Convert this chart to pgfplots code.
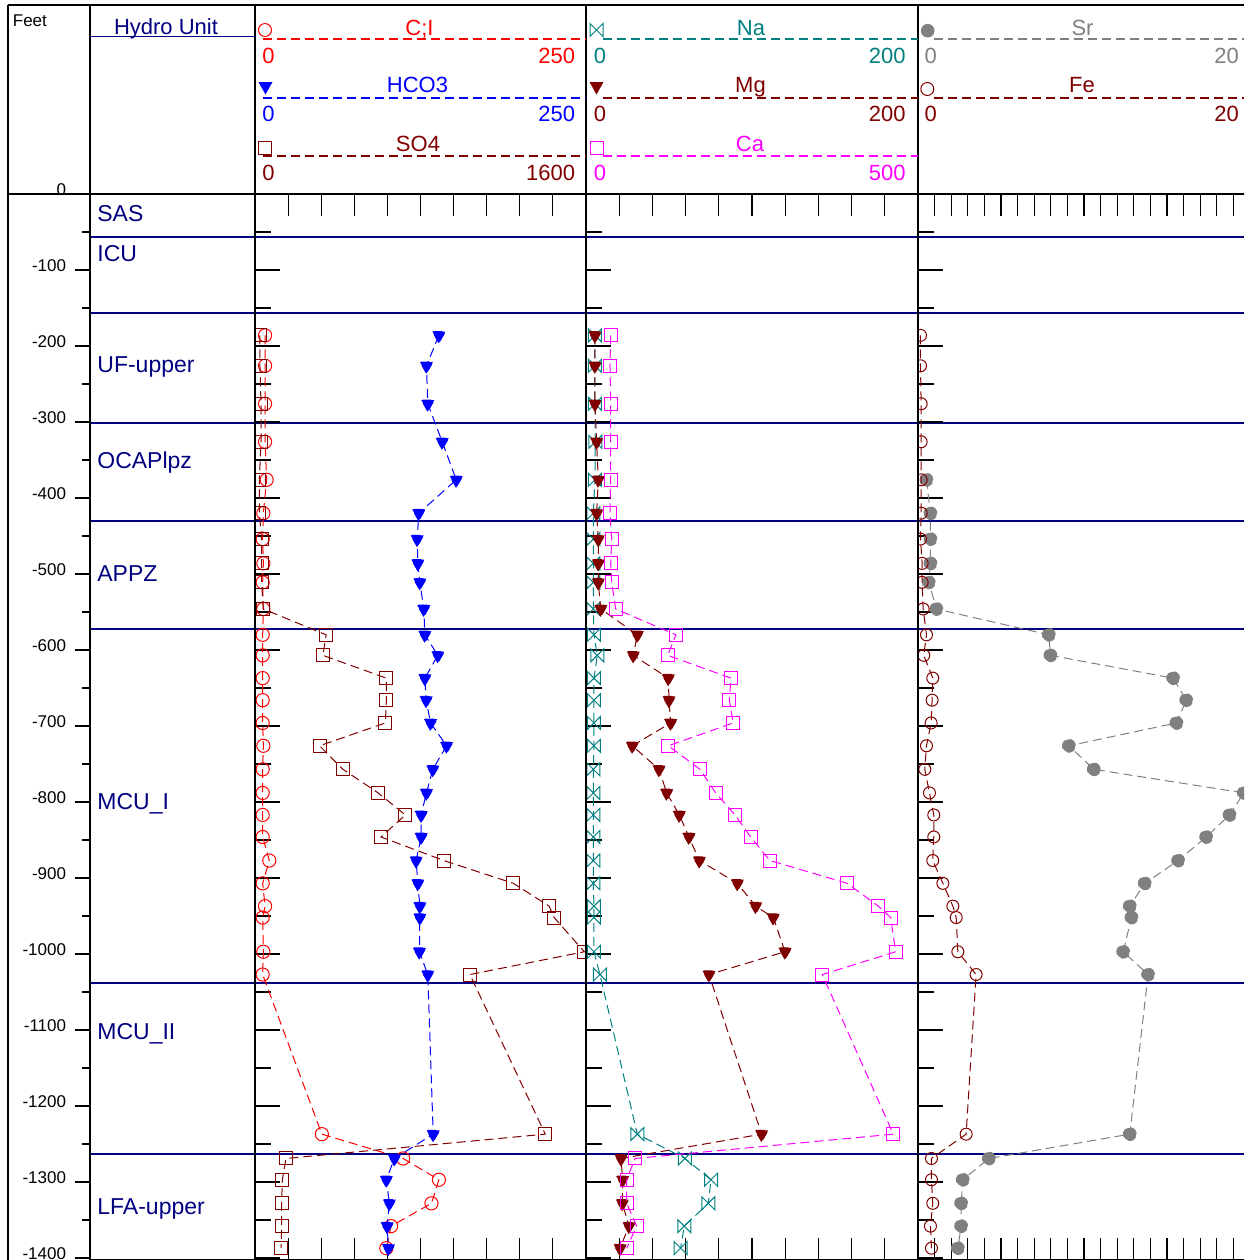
\documentclass[border=0pt]{standalone}
\usepackage{pgfplots}
\pgfplotsset{compat=1.18}
\usepackage{pgfplotstable}
\usepackage{fontspec}
\setmainfont{Liberation Sans}

\definecolor{clred}{RGB}{255,0,0}
\definecolor{hcblue}{RGB}{0,0,255}
\definecolor{maroon}{RGB}{128,0,0}
\definecolor{nateal}{RGB}{0,128,128}
\definecolor{camag}{RGB}{255,0,255}
\definecolor{srgray}{RGB}{128,128,128}
\definecolor{unitnavy}{RGB}{0,0,128}

\newcommand\hdr{\fontsize{11}{13}\selectfont}
\newcommand\unitf{\fontsize{11.5}{13}\selectfont}
\newcommand\ftf{\fontsize{8.5}{10}\selectfont}

% open bowtie marker used for sodium
\pgfdeclareplotmark{bowtie}{%
  \pgfpathmoveto{\pgfqpoint{-\pgfplotmarksize}{-\pgfplotmarksize}}%
  \pgfpathlineto{\pgfqpoint{-\pgfplotmarksize}{\pgfplotmarksize}}%
  \pgfpathlineto{\pgfqpoint{\pgfplotmarksize}{-\pgfplotmarksize}}%
  \pgfpathlineto{\pgfqpoint{\pgfplotmarksize}{\pgfplotmarksize}}%
  \pgfpathclose
  \pgfusepathqstroke}

% water-quality profile: elevation (ft) and concentrations
\pgfplotstableread{
ft     cl     hco3   so4   na    mg     ca     sr     fe
-186   7.6    138.9  24    5.4   5.4    37.2   nan    0.15
-226   7.6    129.5  24    5.4   5.4    36.1   nan    0.15
-276   7.6    130.5  29    5.4   5.4    37.2   nan    0.19
-326   7.6    141.4  29    5.6   6.4    37.2   nan    0.19
-376   8.8    152.0  21    5.4   7.4    37.2   0.51   0.19
-420   6.3    123.7  21    4.4   6.4    36.1   0.75   0.19
-454   5.8    122.5  32    4.4   7.4    38.7   0.75   0.15
-486   6.3    123.0  32    4.4   7.4    37.2   0.75   0.25
-511   5.8    124.5  32    4.4   7.4    38.7   0.65   0.25
-546   6.3    127.5  40    4.4   8.9    44.7   1.11   0.31
-580   5.8    128.3  344   4.8   30.9   135.5  7.88   0.51
-607   5.8    138.1  328   6.8   28.5   123.0  7.98   0.35
-637   5.8    128.3  635   4.8   49.6   218.4  15.37  0.89
-666   5.8    129.3  635   4.8   50.0   215.8  16.16  0.85
-696   5.8    132.6  630   4.8   51.0   221.8  15.57  0.79
-726   6.3    144.7  312   4.8   27.9   124.0  9.09   0.51
-757   5.8    134.3  425   4.4   44.0   171.7  10.59  0.41
-788   5.8    129.5  595   4.4   48.6   195.3  19.63  0.69
-817   5.8    125.5  727   4.4   56.2   224.4  18.77  0.95
-846   5.8    125.5  609   4.4   62.0   248.0  17.36  0.95
-877   10.8   121.7  913   4.4   68.3   277.0  15.67  0.89
-907   5.8    123.0  1249  4.4   91.2   393.5  13.66  1.50
-937   7.6    124.5  1422  4.8   102.2  440.2  12.76  2.10
-952   5.8    124.5  1446  4.8   112.8  458.9  12.86  2.30
-997   6.3    124.2  1592  4.8   119.9  466.4  12.36  2.40
-1027  5.8    130.5  1039  8.4   74.1   355.9  13.86  3.50
-1237  50.5   134.6  1403  30.9  105.8  462.8  12.76  2.90
-1269  111.9  105.3  150   59.6  21.1   73.8   4.27   0.81
-1297  138.9  99.2   132   75.3  22.1   61.3   2.70   0.81
-1328  133.3  101.5  129   73.7  21.9   61.3   2.60   0.89
-1358  102.8  99.8   129   59.2  25.9   76.3   2.60   0.75
-1387  99.2   100.8  126   57.0  20.5   61.3   2.40   0.81
}\wq

\pgfplotsset{
  depthax/.style={scale only axis, anchor=north west, height=533.15pt,
    ymin=-1403, ymax=0},
  panel/.style={depthax,
    axis line style={line width=1pt},
    ytick={-1400,-1300,...,0}, minor y tick num=1, ytick pos=left,
    yticklabels={}, xticklabels={}, extra x tick labels={},
    tick align=inside,
    ytick style={line width=0.6pt, black, /pgfplots/major tick length=12.5pt},
    minor tick length=8pt,
    xtick style={line width=0.6pt, black, /pgfplots/major tick length=11pt},
    extra x tick style={line width=0.6pt, black, /pgfplots/major tick length=17pt},
    clip marker paths=true},
  overlay/.style={depthax, hide axis, clip marker paths=true},
  prof/.style={line width=0.5pt, dash pattern=on 4.5pt off 2.5pt,
    mark options={solid, line width=0.5pt}},
}

\begin{document}
\begin{tikzpicture}
\useasboundingbox (0,0) rectangle (622pt,-630pt);
\clip (0,0) rectangle (622pt,-630pt);

% hydrogeologic unit boundaries
\begin{scope}[x=0.5pt, y=-0.5pt]
  \foreach \yy in {237,313,423,521,629,983,1154}
    \draw[unitnavy, line width=0.8pt] (90,\yy) -- (1244,\yy);
\end{scope}

% depth scale and unit column
\begin{axis}[depthax, at={(45pt,-97pt)}, width=82.5pt,
    xmin=0, xmax=1, xtick=\empty,
    axis line style={line width=1pt},
    ytick={-1400,-1300,...,0}, minor y tick num=1, ytick pos=left,
    tick align=outside,
    ytick style={line width=0.8pt, black, /pgfplots/major tick length=7.5pt},
    minor tick length=4pt,
    /pgf/number format/assume math mode=true,
    /pgf/number format/1000 sep={},
    yticklabel style={font=\ftf, anchor=base east, inner sep=0pt,
      yshift=-0.5pt, xshift=-7.5pt}]
\end{axis}

% panel 1: chloride, bicarbonate, sulfate
\begin{axis}[panel, at={(127.5pt,-97pt)}, width=165.5pt,
    xmin=0, xmax=250, xtick={25,50,...,225}, extra x ticks={125}]
  \addplot[prof, clred, mark=o, mark size=3.3pt]
    table[x=cl, y=ft] {\wq};
  \addplot[prof, hcblue, mark=triangle*, mark size=3.75pt,
    mark options={rotate=180, fill=hcblue}]
    table[x=hco3, y=ft] {\wq};
\end{axis}
\begin{axis}[overlay, at={(127.5pt,-97pt)}, width=165.5pt, xmin=0, xmax=1600]
  \addplot[prof, maroon, mark=square, mark size=3.25pt]
    table[x=so4, y=ft] {\wq};
\end{axis}

% panel 2: sodium, magnesium, calcium
\begin{axis}[panel, at={(293pt,-97pt)}, width=166pt,
    xmin=0, xmax=200, xtick={20,40,...,180}, extra x ticks={100}]
  \addplot[prof, nateal, mark=bowtie, mark size=3.25pt]
    table[x=na, y=ft] {\wq};
  \addplot[prof, maroon, mark=triangle*, mark size=3.75pt,
    mark options={rotate=180, fill=maroon}]
    table[x=mg, y=ft] {\wq};
\end{axis}
\begin{axis}[overlay, at={(293pt,-97pt)}, width=166pt, xmin=0, xmax=500]
  \addplot[prof, camag, mark=square, mark size=3.25pt]
    table[x=ca, y=ft] {\wq};
\end{axis}

% panel 3: strontium, iron
\begin{axis}[panel, at={(459pt,-97pt)}, width=166pt,
    xmin=0, xmax=20, xtick={1,2,...,19}, extra x ticks={5,10,15}]
  \addplot[prof, srgray, mark=*, mark size=3.2pt,
    mark options={fill=srgray}]
    table[x=sr, y=ft] {\wq};
  \addplot[prof, maroon, mark=o, mark size=3pt]
    table[x=fe, y=ft] {\wq};
\end{axis}

\begin{scope}[x=0.5pt, y=-0.5pt]
  % frame
  \draw[line width=1pt] (7.5,5) -- (1244,5);
  \draw[line width=1pt] (7.5,194.3) -- (1244,194.3);
  \foreach \xx in {7.5,90,255,586,918}
    \draw[line width=1pt] (\xx,5) -- (\xx,1262);

  % column titles
  \node[anchor=base west, inner sep=0pt, font=\ftf] at (12.5,26) {Feet};
  \node[anchor=base, inner sep=0pt, font=\hdr, text=unitnavy] at (166,34.5) {Hydro Unit};
  \draw[unitnavy, line width=0.5pt] (90,36.7) -- (255,36.7);

  % unit names
  \foreach \nm/\yy in {SAS/221, ICU/261, UF-upper/372, OCAPlpz/468,
      APPZ/581, MCU\_I/809, MCU\_II/1039, LFA-upper/1214}
    \node[anchor=base west, inner sep=0pt, font=\unitf, text=unitnavy] at (97,\yy) {\nm};

  \tikzset{hdash/.style={line width=0.55pt, dash pattern=on 4.5pt off 2.5pt}}

  % panel 1 key
  \draw[clred, line width=0.5pt] (265,30) circle (6.5);
  \node[anchor=base, inner sep=0pt, font=\hdr, text=clred] at (419.5,35) {C;I};
  \draw[draw=clred, hdash] (263,39) -- (586,39);
  \node[anchor=base west, inner sep=0pt, font=\hdr, text=clred] at (262,63.5) {0};
  \node[anchor=base east, inner sep=0pt, font=\hdr, text=clred] at (575.5,63.5) {250};

  \fill[hcblue] (258.5,82) -- (272.5,82) -- (265.5,94.5) -- cycle;
  \node[anchor=base, inner sep=0pt, font=\hdr, text=hcblue] at (417.5,92.5) {HCO3};
  \draw[draw=hcblue, hdash] (263,98) -- (586,98);
  \node[anchor=base west, inner sep=0pt, font=\hdr, text=hcblue] at (262,121.5) {0};
  \node[anchor=base east, inner sep=0pt, font=\hdr, text=hcblue] at (575.5,121.5) {250};

  \draw[maroon, line width=0.5pt] (258.5,141) rectangle (271.5,154);
  \node[anchor=base, inner sep=0pt, font=\hdr, text=maroon] at (418,151.5) {SO4};
  \draw[draw=maroon, hdash] (263,156) -- (586,156);
  \node[anchor=base west, inner sep=0pt, font=\hdr, text=maroon] at (262,180) {0};
  \node[anchor=base east, inner sep=0pt, font=\hdr, text=maroon] at (575.5,180) {1600};

  % panel 2 key
  \draw[nateal, line width=0.5pt] (590,23.5) -- (590,36.5) -- (603,23.5) -- (603,36.5) -- cycle;
  \node[anchor=base, inner sep=0pt, font=\hdr, text=nateal] at (751,35) {Na};
  \draw[draw=nateal, hdash] (603,39) -- (918,39);
  \node[anchor=base west, inner sep=0pt, font=\hdr, text=nateal] at (593.5,63.5) {0};
  \node[anchor=base east, inner sep=0pt, font=\hdr, text=nateal] at (906,63.5) {200};

  \fill[maroon] (589.5,82) -- (603.5,82) -- (596.5,94.5) -- cycle;
  \node[anchor=base, inner sep=0pt, font=\hdr, text=maroon] at (750.5,92.5) {Mg};
  \draw[draw=maroon, hdash] (603,98) -- (918,98);
  \node[anchor=base west, inner sep=0pt, font=\hdr, text=maroon] at (593.5,121.5) {0};
  \node[anchor=base east, inner sep=0pt, font=\hdr, text=maroon] at (906,121.5) {200};

  \draw[camag, line width=0.5pt] (590,141.8) rectangle (603,154.8);
  \node[anchor=base, inner sep=0pt, font=\hdr, text=camag] at (750,151.5) {Ca};
  \draw[draw=camag, hdash] (603,156) -- (918,156);
  \node[anchor=base west, inner sep=0pt, font=\hdr, text=camag] at (593.5,180) {0};
  \node[anchor=base east, inner sep=0pt, font=\hdr, text=camag] at (906,180) {500};

  % panel 3 key
  \fill[srgray] (927.7,30.7) circle (6.8);
  \node[anchor=base, inner sep=0pt, font=\hdr, text=srgray] at (1082.5,35) {Sr};
  \draw[draw=srgray, hdash] (934,39) -- (1244,39);
  \node[anchor=base west, inner sep=0pt, font=\hdr, text=srgray] at (924.3,63.5) {0};
  \node[anchor=base east, inner sep=0pt, font=\hdr, text=srgray] at (1239.3,63.5) {20};

  \draw[maroon, line width=0.5pt] (927.3,89) circle (6.5);
  \node[anchor=base, inner sep=0pt, font=\hdr, text=maroon] at (1082,92.5) {Fe};
  \draw[draw=maroon, hdash] (934,98) -- (1244,98);
  \node[anchor=base west, inner sep=0pt, font=\hdr, text=maroon] at (924.3,121.5) {0};
  \node[anchor=base east, inner sep=0pt, font=\hdr, text=maroon] at (1239.3,121.5) {20};
\end{scope}
\end{tikzpicture}
\end{document}
